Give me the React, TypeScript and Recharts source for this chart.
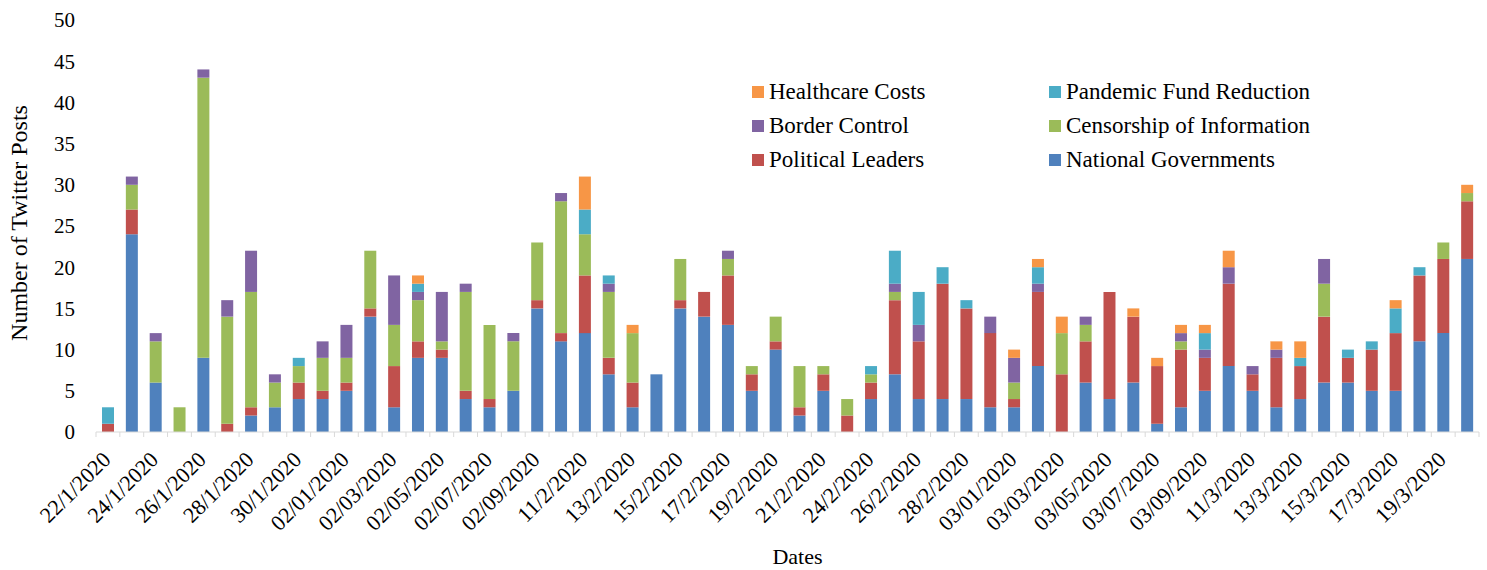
import { BarChart, Bar, XAxis, YAxis } from "recharts";

const FONT = '"Liberation Serif", "Times New Roman", serif';

const DATES = [
  "22/1/2020", "23/1/2020", "24/1/2020", "25/1/2020", "26/1/2020", "27/1/2020",
  "28/1/2020", "29/1/2020", "30/1/2020", "31/1/2020", "02/01/2020", "02/02/2020",
  "02/03/2020", "02/04/2020", "02/05/2020", "02/06/2020", "02/07/2020", "02/08/2020",
  "02/09/2020", "02/10/2020", "11/2/2020", "12/2/2020", "13/2/2020", "14/2/2020",
  "15/2/2020", "16/2/2020", "17/2/2020", "18/2/2020", "19/2/2020", "20/2/2020",
  "21/2/2020", "22/2/2020", "24/2/2020", "25/2/2020", "26/2/2020", "27/2/2020",
  "28/2/2020", "29/2/2020", "03/01/2020", "03/02/2020", "03/03/2020", "03/04/2020",
  "03/05/2020", "03/06/2020", "03/07/2020", "03/08/2020", "03/09/2020", "03/10/2020",
  "11/3/2020", "12/3/2020", "13/3/2020", "14/3/2020", "15/3/2020", "16/3/2020",
  "17/3/2020", "18/3/2020", "19/3/2020", "20/3/2020",
];

const NATIONAL = [
  0, 24, 6, 0, 9, 0, 2, 3, 4, 4, 5, 14, 3, 9, 9, 4, 3, 5, 15, 11,
  12, 7, 3, 7, 15, 14, 13, 5, 10, 2, 5, 0, 4, 7, 4, 4, 4, 3, 3, 8,
  0, 6, 4, 6, 1, 3, 5, 8, 5, 3, 4, 6, 6, 5, 5, 11, 12, 21,
];
const POLITICAL = [
  1, 3, 0, 0, 0, 1, 1, 0, 2, 1, 1, 1, 5, 2, 1, 1, 1, 0, 1, 1,
  7, 2, 3, 0, 1, 3, 6, 2, 1, 1, 2, 2, 2, 9, 7, 14, 11, 9, 1, 9,
  7, 5, 13, 8, 7, 7, 4, 10, 2, 6, 4, 8, 3, 5, 7, 8, 9, 7,
];
const CENSORSHIP = [
  0, 3, 5, 3, 34, 13, 14, 3, 2, 4, 3, 7, 5, 5, 1, 12, 9, 6, 7, 16,
  5, 8, 6, 0, 5, 0, 2, 1, 3, 5, 1, 2, 1, 1, 0, 0, 0, 0, 2, 0,
  5, 2, 0, 0, 0, 1, 0, 0, 0, 0, 0, 4, 0, 0, 0, 0, 2, 1,
];
const BORDER = [
  0, 1, 1, 0, 1, 2, 5, 1, 0, 2, 4, 0, 6, 1, 6, 1, 0, 1, 0, 1,
  0, 1, 0, 0, 0, 0, 1, 0, 0, 0, 0, 0, 0, 1, 2, 0, 0, 2, 3, 1,
  0, 1, 0, 0, 0, 1, 1, 2, 1, 1, 0, 3, 0, 0, 0, 0, 0, 0,
];
const PANDEMIC = [
  2, 0, 0, 0, 0, 0, 0, 0, 1, 0, 0, 0, 0, 1, 0, 0, 0, 0, 0, 0,
  3, 1, 0, 0, 0, 0, 0, 0, 0, 0, 0, 0, 1, 4, 4, 2, 1, 0, 0, 2,
  0, 0, 0, 0, 0, 0, 2, 0, 0, 0, 1, 0, 1, 1, 3, 1, 0, 0,
];
const HEALTHCARE = [
  0, 0, 0, 0, 0, 0, 0, 0, 0, 0, 0, 0, 0, 1, 0, 0, 0, 0, 0, 0,
  4, 0, 1, 0, 0, 0, 0, 0, 0, 0, 0, 0, 0, 0, 0, 0, 0, 0, 1, 1,
  2, 0, 0, 1, 1, 1, 1, 2, 0, 1, 2, 0, 0, 0, 1, 0, 0, 1,
];

const Y_TICKS = [0, 5, 10, 15, 20, 25, 30, 35, 40, 45, 50];

// bottom to top of each stack
const SERIES = [
  { key: "national", label: "National Governments", color: "#4F81BD", values: NATIONAL },
  { key: "political", label: "Political Leaders", color: "#C0504D", values: POLITICAL },
  { key: "censorship", label: "Censorship of Information", color: "#9BBB59", values: CENSORSHIP },
  { key: "border", label: "Border Control", color: "#8064A2", values: BORDER },
  { key: "pandemic", label: "Pandemic Fund Reduction", color: "#4BACC6", values: PANDEMIC },
  { key: "healthcare", label: "Healthcare Costs", color: "#F79646", values: HEALTHCARE },
];

// legend reads row by row, two columns
const LEGEND_ORDER = ["healthcare", "pandemic", "border", "censorship", "political", "national"];

const data = DATES.map((date, i) => {
  const row: Record<string, string | number> = { date };
  for (const s of SERIES) row[s.key] = s.values[i];
  return row;
});

const WIDTH = 1487;
const HEIGHT = 570;
const Y_AXIS_W = 96;
const RIGHT = 8;
const BAND = (WIDTH - Y_AXIS_W - RIGHT) / DATES.length;
const AXIS_GREY = "#D9D9D9";

function DateTick(props: any) {
  const { x, y, index, payload } = props;
  const left = x - BAND / 2;
  const tx = x + 4;
  const ty = y + 29;
  return (
    <g>
      <line x1={left} y1={y} x2={left} y2={y + 5} stroke={AXIS_GREY} />
      {index === DATES.length - 1 && (
        <line x1={x + BAND / 2} y1={y} x2={x + BAND / 2} y2={y + 5} stroke={AXIS_GREY} />
      )}
      {index % 2 === 0 && (
        <text
          x={tx}
          y={ty}
          textAnchor="end"
          transform={`rotate(-45, ${tx}, ${ty})`}
          fontSize={22}
          fontFamily={FONT}
          fill="#000"
        >
          {payload.value}
        </text>
      )}
    </g>
  );
}

function LegendBox() {
  return (
    <div
      style={{
        position: "absolute",
        left: 752,
        top: 79,
        display: "grid",
        gridTemplateColumns: "297px 340px",
        rowGap: 8,
        fontFamily: FONT,
        fontSize: 23,
        color: "#000",
      }}
    >
      {LEGEND_ORDER.map((k) => {
        const s = SERIES.find((x) => x.key === k)!;
        return (
          <div key={k} style={{ display: "flex", alignItems: "center", height: 26 }}>
            <span style={{ width: 12, height: 12, background: s.color, marginRight: 5 }} />
            <span>{s.label}</span>
          </div>
        );
      })}
    </div>
  );
}

export default function App() {
  return (
    <div
      style={{
        position: "absolute",
        left: 0,
        top: 0,
        width: WIDTH,
        height: HEIGHT,
        background: "#fff",
        overflow: "hidden",
      }}
    >
      <BarChart
        width={WIDTH}
        height={HEIGHT}
        data={data}
        margin={{ top: 20, right: RIGHT, left: 0, bottom: 0 }}
        barSize={12}
      >
        <XAxis
          dataKey="date"
          interval={0}
          height={138}
          tickSize={0}
          tickMargin={0}
          tickLine={false}
          axisLine={{ stroke: AXIS_GREY }}
          tick={DateTick}
          label={{
            value: "Dates",
            position: "insideBottom",
            offset: 6,
            dx: 10,
            style: { fontFamily: FONT, fontSize: 22, fill: "#000" },
          }}
        />
        <YAxis
          width={Y_AXIS_W}
          domain={[0, 50]}
          ticks={Y_TICKS}
          interval={0}
          tickSize={0}
          tickMargin={21}
          axisLine={false}
          tickLine={false}
          tick={{ fontFamily: FONT, fontSize: 21, fill: "#000" }}
          label={{
            value: "Number of Twitter Posts",
            angle: -90,
            position: "center",
            dx: -30,
            dy: -3,
            style: { fontFamily: FONT, fontSize: 24, fill: "#000", textAnchor: "middle" },
          }}
        />
        {SERIES.map((s) => (
          <Bar
            key={s.key}
            dataKey={s.key}
            stackId="a"
            fill={s.color}
            isAnimationActive={false}
          />
        ))}
      </BarChart>
      <LegendBox />
    </div>
  );
}
